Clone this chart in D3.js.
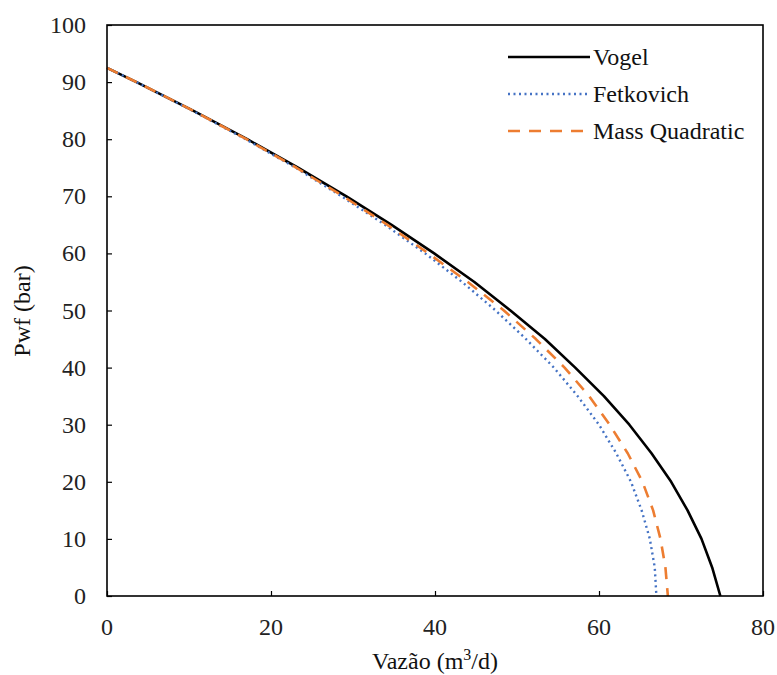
<html>
<head>
<script src="https://d3js.org/d3.v7.min.js"></script>
<style>
body { margin: 0; background: #fff; }
</style>
</head>
<body>
<svg width="777" height="675"></svg>
<script>
  // pressures (bar) at which the three IPR curves were read
  var pwf = [92.5, 90, 85, 80, 75, 70, 65, 60, 55, 50, 45, 40, 35, 30, 25, 20, 15, 10, 5, 0];
  // rates (m3/d)
  var vogel = [0, 3.6, 10.5, 17.1, 23.3, 29.2, 34.7, 39.9, 44.8, 49.2, 53.4, 57.1, 60.6, 63.7, 66.4, 68.8, 70.8, 72.5, 73.8, 74.8];
  var fetkovich = [0, 3.6, 10.4, 16.9, 23.0, 28.6, 33.9, 38.8, 43.3, 47.4, 51.1, 54.5, 57.4, 60.0, 62.1, 63.9, 65.2, 66.2, 66.8, 67.0];
  var massQuad = [0, 3.6, 10.5, 17.0, 23.1, 28.8, 34.2, 39.2, 44.0, 48.4, 52.3, 55.8, 58.8, 61.3, 63.5, 65.3, 66.6, 67.5, 68.1, 68.4];

  var xTicks = [0, 20, 40, 60, 80];
  var yTicks = [0, 10, 20, 30, 40, 50, 60, 70, 80, 90, 100];

  var series = [
    {name: "Vogel", values: vogel, color: "#000000", dash: null, width: 2.6},
    {name: "Fetkovich", values: fetkovich, color: "#4472C4", dash: "2,3.5", width: 2.4},
    {name: "Mass Quadratic", values: massQuad, color: "#ED7D31", dash: "12,9", width: 2.6}
  ];

  var serif = "'Liberation Serif', 'Times New Roman', Times, 'DejaVu Serif', serif";

  var svg = d3.select("svg").attr("font-family", serif);
  var pLeft = 107, pRight = 763, pTop = 25, pBottom = 596;

  var x = d3.scaleLinear().domain([0, 80]).range([pLeft, pRight]);
  var y = d3.scaleLinear().domain([0, 100]).range([pBottom, pTop]);

  // y axis, ticks inside
  var yAxis = svg.append("g")
    .attr("transform", "translate(" + pLeft + ",0)")
    .call(d3.axisRight(y).tickValues(yTicks).tickSize(5).tickFormat(""));
  yAxis.select(".domain").remove();
  yAxis.selectAll("line").attr("stroke", "#000").attr("stroke-width", 1.2);

  svg.append("g").selectAll("text")
    .data(yTicks)
    .enter().append("text")
    .attr("x", 86)
    .attr("y", d => y(d) + 8)
    .attr("text-anchor", "end")
    .attr("font-family", serif)
    .attr("font-size", "24px")
    .attr("fill", "#222")
    .text(d => d);

  // x axis, ticks inside
  var xAxis = svg.append("g")
    .attr("transform", "translate(0," + pBottom + ")")
    .call(d3.axisTop(x).tickValues(xTicks).tickSize(5).tickFormat(""));
  xAxis.select(".domain").remove();
  xAxis.selectAll("line").attr("stroke", "#000").attr("stroke-width", 1.2);

  svg.append("g").selectAll("text")
    .data(xTicks)
    .enter().append("text")
    .attr("x", d => x(d))
    .attr("y", 635)
    .attr("text-anchor", "middle")
    .attr("font-family", serif)
    .attr("font-size", "24px")
    .attr("fill", "#222")
    .text(d => d);

  // curves
  var line = d3.line()
    .x(d => x(d[0]))
    .y(d => y(d[1]));

  series.forEach(function(s){
    var pts = s.values.map((q, i) => [q, pwf[i]]);
    svg.append("path")
      .attr("d", line(pts))
      .attr("fill", "none")
      .attr("stroke", s.color)
      .attr("stroke-width", s.width)
      .attr("stroke-dasharray", s.dash)
      .attr("stroke-linejoin", "round");
  });

  // frame
  svg.append("rect")
    .attr("x", pLeft).attr("y", pTop)
    .attr("width", pRight - pLeft).attr("height", pBottom - pTop)
    .attr("fill", "none")
    .attr("stroke", "#000")
    .attr("stroke-width", 1.6);

  // legend
  var legend = svg.selectAll("g.legend")
    .data(series)
    .enter().append("g")
    .attr("class", "legend")
    .attr("transform", (d, i) => "translate(0," + (57 + i * 37) + ")");

  legend.append("line")
    .attr("x1", 508).attr("x2", 590)
    .attr("y1", 0).attr("y2", 0)
    .attr("stroke", d => d.color)
    .attr("stroke-width", d => d.width)
    .attr("stroke-dasharray", d => d.dash);

  legend.append("text")
    .attr("x", 593)
    .attr("y", 8)
    .attr("font-family", serif)
    .attr("font-size", "24px")
    .attr("fill", "#111")
    .text(d => d.name);

  // axis titles
  var xt = svg.append("text")
    .attr("x", 435)
    .attr("y", 669)
    .attr("text-anchor", "middle")
    .attr("font-family", serif)
    .attr("font-size", "24px")
    .attr("fill", "#111");
  xt.append("tspan").text("Vazão (m");
  xt.append("tspan").attr("dy", -9).attr("font-size", "16px").text("3");
  xt.append("tspan").attr("dy", 9).text("/d)");

  svg.append("text")
    .attr("transform", "translate(30,311) rotate(-90)")
    .attr("text-anchor", "middle")
    .attr("font-family", serif)
    .attr("font-size", "24px")
    .attr("fill", "#111")
    .text("Pwf (bar)");
</script>
</body>
</html>
